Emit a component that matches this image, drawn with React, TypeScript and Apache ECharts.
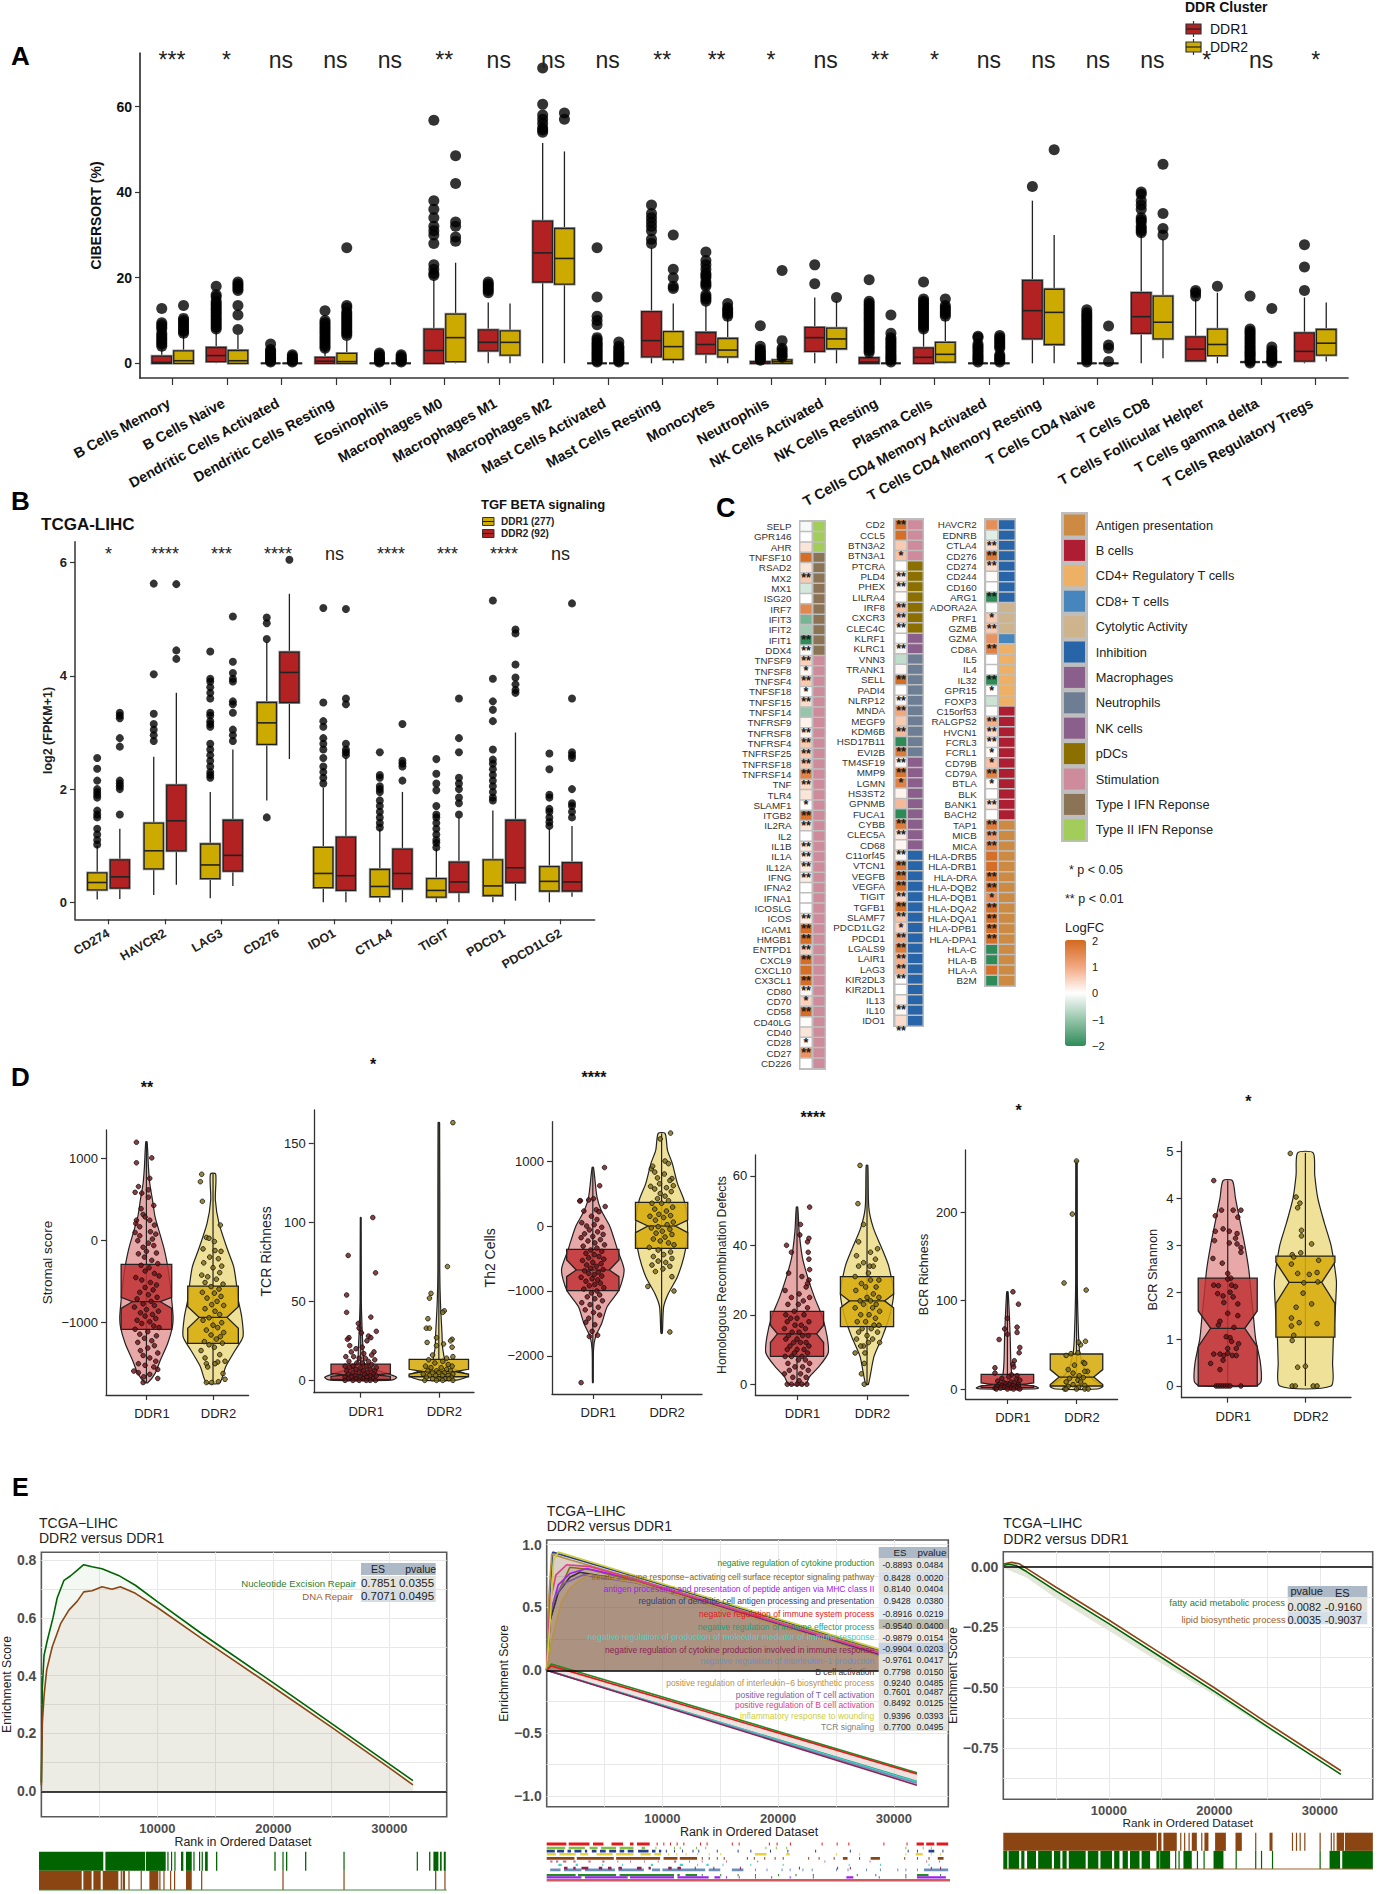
import React, { useEffect, useRef } from "react";
import * as echarts from "echarts";

const FONT = '"Liberation Sans", Arial, sans-serif';
const RED = "#B22222";
const GOLD = "#CDAA00";

// ---------- Panel A ----------
const cellTypes = ["B Cells Memory","B Cells Naive","Dendritic Cells Activated","Dendritic Cells Resting","Eosinophils","Macrophages M0","Macrophages M1","Macrophages M2","Mast Cells Activated","Mast Cells Resting","Monocytes","Neutrophils","NK Cells Activated","NK Cells Resting","Plasma Cells","T Cells CD4 Memory Activated","T Cells CD4 Memory Resting","T Cells CD4 Naive","T Cells CD8","T Cells Follicular Helper","T Cells gamma delta","T Cells Regulatory Tregs"];
const cellSig = ["***","*","ns","ns","ns","**","ns","ns","ns","**","**","*","ns","**","*","ns","ns","ns","ns","*","ns","*"];
// low whisker, q1, median, q3, high whisker
const cellBoxDDR1 = [[0,0,0.2,1.7,3.5],[0,0.4,1.8,3.7,7.4],[0,0,0,0,0],[0,0,0.5,1.4,3.2],[0,0,0,0,0],[0,0,3,8,19.6],[0,2.9,4.9,7.8,14.2],[0,19,25.8,33.2,51.5],[0,0,0,0,0],[0,1.5,5.3,12.1,27],[0,2.2,4.4,7.2,13.5],[0,0,0,0.4,0.6],[0,2.8,6,8.4,15.4],[0,0,0.3,1.3,2],[0,0,1.4,3.6,7.7],[0,0,0,0,0],[0,5.7,12.3,19.4,38],[0,0,0,0,0],[0,7,10.9,16.5,30],[0.3,0.6,3.3,6.2,15],[0.3,0.3,0.3,0.3,0.3],[0,0.5,2.8,7.1,15.4]];
const cellBoxDDR2 = [[0,0,0.6,2.9,6.8],[0,0,0.6,3,6.6],[0,0,0,0,0],[0,0,0.4,2.3,5.4],[0,0,0,0,0],[0,0.4,6,11.5,23.5],[0,1.9,4.9,7.6,14],[0,18.5,24.5,31.5,49.5],[0,0,0,0,0],[0,0.9,3.9,7.4,14],[0,1.5,3.1,5.8,10.5],[0,0,0.4,0.8,1],[0,3.4,5.7,8.2,14.5],[0,0,0,0,0],[0,0.3,2.1,4.9,10.6],[0,0,0,0,0],[0,4.4,11.9,17.3,30],[0,0,0,0,0],[1.2,5.7,9.6,15.7,29],[0,1.8,4.4,8,16.5],[0.3,0.3,0.3,0.3,0.3],[0.4,1.9,4.7,7.9,14.2]];
const cellOutDDR1 = [[4,4.5,5,5.5,6,6.5,7,8,8.5,9,9.5,12.8],[8,8.5,9,9.5,10,10.5,11,11.5,12,12.5,13,13.5,14,14.5,15.5,16,18],[0.3,0.6,0.9,1.2,1.6,2,2.4,2.8,3.2,4.5],[3.5,4,4.5,5,5.5,6,6.5,7,7.5,8,8.5,9,9.5,10,12.3],[0.3,0.6,0.9,1.2,1.5,2,2.4],[20.5,21,22,23,28,30,31,32,34,36,38,56.8],[16.5,17,17.5,18,18.5,19],[54,54.5,55,56,57,58,60.5,69],[0.3,0.6,1,1.4,1.8,2.2,2.6,3,3.4,3.8,4.2,4.6,5,5.5,6,9,10,11,15.5,27],[28,29,31,32,33,34,35,37],[14.5,15,15.5,16,18,18.5,19,20,20.5,21,22,23,24,26],[0.7,1,1.3,1.6,2,2.4,2.8,3.2,4,8.8],[18.6,23],[2.5,3,3.5,4,4.5,5,5.5,6,6.5,7,7.5,8,8.5,9,9.5,10,10.5,11,11.5,12,12.5,13,13.5,14,14.5,19.5],[8,8.5,9,9.5,10,10.5,11,11.5,12,12.5,13,13.5,14,14.5,15,19],[0.3,0.8,1.2,1.6,2,2.5,3,3.5,4,4.5,6,6.3],[41.3],[0.3,0.8,1.3,1.8,2.3,2.8,3.3,3.8,4.3,4.8,5.3,5.8,6.3,6.8,7.3,7.8,8.3,8.8,9.3,9.8,10.3,10.8,11.3,11.8,12.5],[30.5,31,31.5,32,33,33.5,34,36,37,38,39.5,40],[15.7,16.5,17],[0.1,0.5,0.9,1.4,1.8,2.2,2.6,3,3.5,4,4.5,5,5.5,6,6.5,7,7.5,8,15.7],[17,22.5,27.7]];
const cellOutDDR2 = [[7,7.5,8,8.5,9,9.5,10,10.5,13.5],[7.9,11.3,13.5,17,17.5,18,18.5,19],[0.3,0.6,0.9,1.2,1.6,2],[6.5,7,7.5,8,8.5,9,9.5,10,10.5,11,11.5,12,13,13.5,27],[0.3,0.6,0.9,1.2,1.6,2],[28.5,29.5,32,33,42,48.5],[],[57,58.5],[0.3,0.6,1,1.4,1.8,2.2,2.6,3,3.5,4,5],[17.5,18,20,22,30],[11,11.5,12,12.5,13,14],[1.4,1.8,2.4,3,3.5,5.3,21.7],[15.4],[0.3,0.8,1.2,1.6,2,2.5,3,3.5,4,4.5,5,5.5,6,7,11.3],[11,11.5,12,12.5,13,13.5,15],[0.3,0.8,1.2,1.6,2,3.5,4,4.5,5,5.5,6,6.5],[49.9],[0.4,3.5,4.3,8.7],[30,31.5,35,46.5],[18],[0.2,0.6,1,1.5,2,2.5,3,3.8,12.8],[]];

// ---------- Panel B ----------
const checkpoints = ["CD274","HAVCR2","LAG3","CD276","IDO1","CTLA4","TIGIT","PDCD1","PDCD1LG2"];
const checkpointSig = ["*","****","***","****","ns","****","***","****","ns"];
const cpBoxDDR1 = [[0.05,0.22,0.35,0.52,1],[0.13,0.59,0.91,1.4,2.57],[0.07,0.42,0.66,1.03,1.95],[1.8,2.79,3.17,3.53,4.6],[0,0.26,0.51,0.97,2.03],[0,0.1,0.28,0.58,1.3],[0,0.09,0.21,0.42,0.95],[0,0.12,0.29,0.75,1.62],[0,0.2,0.37,0.63,1.3]];
const cpBoxDDR2 = [[0.06,0.25,0.45,0.75,1.3],[0.31,0.91,1.44,2.07,3.7],[0.29,0.55,0.83,1.45,2.7],[2.53,3.53,4.06,4.42,5.45],[0,0.21,0.47,1.15,2.55],[0,0.24,0.51,0.94,1.95],[0,0.18,0.36,0.71,1.5],[0.03,0.35,0.61,1.45,3],[0.1,0.2,0.36,0.7,1.35]];
const cpOutDDR1 = [[1.02,1.1,1.2,1.3,1.5,1.55,1.62,1.85,1.9,1.95,2,2.15,2.36,2.55],[2.85,2.95,3.05,3.15,3.33,4.03,5.63],[2.2,2.25,2.3,2.4,2.5,2.6,2.7,2.8,3.1,3.15,3.2,3.3,3.35,3.6,3.7,3.8,3.9,3.95,4.43],[1.5,4.65,4.93,5.03],[2.1,2.2,2.3,2.4,2.55,2.7,2.8,2.9,3.1,3.2,3.53,5.2],[1.32,1.4,1.5,1.6,1.7,1.8,1.95,2,2.05,2.2,2.25,2.65],[0.97,1.05,1.1,1.2,1.3,1.4,1.5,1.55,1.7,1.98,2.1,2.27,2.53],[1.8,1.85,1.95,2.05,2.15,2.25,2.35,2.45,2.52,2.7,3.2,3.4,3.55,3.95,5.33],[1.35,1.42,1.5,1.6,1.65,1.85,1.9,2.35,2.63]];
const cpOutDDR2 = [[1.55,2,2.05,2.1,2.15,2.75,2.9,3.25,3.3,3.35],[4.3,4.45,5.62],[2.85,2.95,3.05,3.35,3.5,3.55,3.9,3.95,4.05,4.25,5.05],[6.05],[2.6,2.65,2.7,2.8,3.5,3.6,5.18],[2.15,2.4,2.45,2.5,3.15],[1.55,1.75,1.85,2,2.1,2.2,2.65,2.9,3.6],[3.7,3.75,3.85,3.97,4.2,4.75,4.82],[1.5,1.6,1.7,1.75,2,2.55,2.6,2.65,3.6,5.28]];

// ---------- Panel C ----------
const immuneGroups = ["Antigen presentation","B cells","CD4+ Regulatory T cells","CD8+ T cells","Cytolytic Activity","Inhibition","Macrophages","Neutrophils","NK cells","pDCs","Stimulation","Type I IFN Reponse","Type II IFN Reponse"];
const immuneColors = ["#CD8A42","#AE1E32","#EDB064","#4686BC","#CEB48C","#2865A8","#8B5F8C","#6D7E94","#8B5F8C","#8B7000","#CD8B9C","#8B7355","#A2CD5A"];
const genes1 = ["SELP","GPR146","AHR","TNFSF10","RSAD2","MX2","MX1","ISG20","IRF7","IFIT3","IFIT2","IFIT1","DDX4","TNFSF9","TNFSF8","TNFSF4","TNFSF18","TNFSF15","TNFSF14","TNFRSF9","TNFRSF8","TNFRSF4","TNFRSF25","TNFRSF18","TNFRSF14","TNF","TLR4","SLAMF1","ITGB2","IL2RA","IL2","IL1B","IL1A","IL12A","IFNG","IFNA2","IFNA1","ICOSLG","ICOS","ICAM1","HMGB1","ENTPD1","CXCL9","CXCL10","CX3CL1","CD80","CD70","CD58","CD40LG","CD40","CD28","CD27","CD226"];
const logfc1 = [-0.1,-0.03,0.3,1.9,0.3,0.6,-0.4,0,1.5,-1.3,-0.9,-2,0,0.5,0.1,0.6,0,0.4,-1,0.15,0.15,0.6,0.6,0.6,1.6,0.4,0.3,0,1.8,0.3,0,0.2,0.15,0.2,0.2,0,0,0,0.2,1.9,1.9,0.5,1.9,1.9,1.9,0.1,0.5,1.9,0.05,0.3,0.05,1.3,0];
const stars1 = ["","","","","","**","","","","","","**","**","**","*","**","*","**","","","**","**","**","**","**","**","","*","**","**","","**","**","**","**","","","","**","**","**","**","**","","**","**","*","**","","","*","**",""];
const groupRows1 = [[12,3],[11,10],[10,40]];
const genes2 = ["CD2","CCL5","BTN3A2","BTN3A1","PTCRA","PLD4","PHEX","LILRA4","IRF8","CXCR3","CLEC4C","KLRF1","KLRC1","VNN3","TRANK1","SELL","PADI4","NLRP12","MNDA","MEGF9","KDM6B","HSD17B11","EVI2B","TM4SF19","MMP9","LGMN","HS3ST2","GPNMB","FUCA1","CYBB","CLEC5A","CD68","C11orf45","VTCN1","VEGFB","VEGFA","TIGIT","TGFB1","SLAMF7","PDCD1LG2","PDCD1","LGALS9","LAIR1","LAG3","KIR2DL3","KIR2DL1","IL13","IL10","IDO1"];
const logfc2 = [1.9,1.9,0.6,0.7,0,0.25,0.15,0.05,0.7,0.5,0.05,0,0.1,-0.6,0.1,1.9,0,0.1,1,0.6,0.8,-2,1.7,0.1,1.8,1.6,0.15,0.8,-2,1.7,0.25,0.1,0.1,1.7,1.8,1.9,0.5,1.9,0.7,0.5,1,1.7,0.9,0.9,0.05,0,0.2,0.1,0.4];
const stars2 = ["**","","","*","","**","**","","**","**","**","","**","","","**","","**","**","","**","","**","**","**","*","","","","**","**","","**","**","**","**","**","**","**","*","**","**","**","**","**","","","**","**"];
const groupRows2 = [[10,4],[9,7],[8,2],[7,10],[6,9],[5,17]];
const genes3 = ["HAVCR2","EDNRB","CTLA4","CD276","CD274","CD244","CD160","ARG1","ADORA2A","PRF1","GZMB","GZMA","CD8A","IL5","IL4","IL32","GPR15","FOXP3","C15orf53","RALGPS2","HVCN1","FCRL3","FCRL1","CD79B","CD79A","BTLA","BLK","BANK1","BACH2","TAP1","MICB","MICA","HLA-DRB5","HLA-DRB1","HLA-DRA","HLA-DQB2","HLA-DQB1","HLA-DQA2","HLA-DQA1","HLA-DPB1","HLA-DPA1","HLA-C","HLA-B","HLA-A","B2M"];
const logfc3 = [1.4,-0.3,0.4,1.7,0.4,0.05,0,-2,0,0.6,0.6,1.3,1.6,0,0,-2,0,-0.5,0,0.9,0.4,0.15,0.05,0.7,1.6,0.05,0,0.3,0,1.7,1.2,1.6,1.9,1.9,1.9,1.9,1.4,1.9,1.9,1.9,1.9,-2,-2,1.9,-2];
const stars3 = ["","","**","**","**","","","**","","*","**","","**","","","**","*","","","**","**","**","*","*","**","*","","**","","**","**","**","","","**","**","*","**","**","**","**","","","",""];
const groupRows3 = [[5,8],[4,3],[3,1],[2,6],[1,11],[0,16]];
const logfcTicks = ["2","1","0","\u22121","\u22122"];

// ---------- Panel D ----------
const stromalViolin1 = [[1207,.01],[900,.03],[700,.05],[500,.09],[290,.13],[90,.2],[-114,.27],[-317,.32],[-520,.355],[-724,.38],[-927,.4],[-1050,.39],[-1250,.32],[-1455,.21],[-1618,.13],[-1732,.02]];
const stromalViolin2 = [[813,.04],[496,.035],[211,.09],[-114,.22],[-317,.31],[-520,.35],[-724,.38],[-927,.43],[-1170,.45],[-1333,.335],[-1537,.19],[-1732,.1]];
const stromalBox1 = [-1732,-1081,-825,-744,-691,-289,1207,.21];
const stromalBox2 = [-1732,-1252,-1069,-935,-805,-553,813,.21];
const stromalPts1 = [[-.15,1200],[.08,1010],[-.15,950],[.05,760],[-.12,660],[-.17,590],[-.07,580],[.03,620],[.03,530],[.11,430],[-.08,390],[-.05,320],[-.02,290],[-.15,250],[.05,250],[-.16,210],[-.1,170],[.12,190],[-.17,100],[.06,110],[.14,80],[-.1,60],[.09,20],[-.13,0],[.03,-30],[-.05,-80],[.11,-60],[0,-130],[.15,-150],[-.12,-160],[-.03,-200],[.08,-240],[.17,-280],[-.08,-300],[.04,-330],[-.02,-370],[.12,-400],[.19,-430],[-.16,-450],[-.07,-480],[.06,-510],[.15,-540],[-.02,-570],[.1,-600],[-.1,-630],[.03,-660],[.16,-690],[-.14,-710],[.07,-740],[-.05,-770],[.12,-790],[-.18,-810],[0,-840],[.18,-860],[-.09,-880],[.09,-900],[-.02,-920],[.14,-950],[-.14,-970],[.05,-990],[-.07,-1010],[.11,-1040],[.19,-1060],[-.17,-1080],[.02,-1110],[-.1,-1140],[.15,-1160],[-.03,-1190],[.08,-1220],[-.13,-1240],[.12,-1280],[.02,-1310],[-.09,-1340],[.17,-1370],[-.05,-1400],[.05,-1430],[.14,-1470],[-.12,-1500],[-.02,-1520],[.11,-1540],[.17,-1570],[-.19,-1590],[-.12,-1610],[.05,-1630],[-.04,-1660],[.17,-1680],[-.05,-1730]];
const stromalPts2 = [[-.17,810],[-.19,720],[-.16,480],[.11,190],[-.1,40],[-.06,30],[.02,-10],[-.15,-100],[.03,-120],[.12,-130],[-.05,-200],[.08,-220],[-.14,-270],[.13,-310],[0,-330],[.1,-390],[-.17,-420],[-.08,-440],[.05,-470],[-.12,-510],[.15,-530],[-.03,-560],[.09,-590],[-.16,-630],[.02,-640],[.12,-680],[-.09,-700],[.06,-740],[-.02,-780],[.16,-790],[-.12,-830],[.03,-860],[.1,-900],[-.06,-940],[-.15,-970],[.13,-1000],[0,-1030],[.07,-1060],[-.1,-1090],[.16,-1120],[-.03,-1150],[.11,-1170],[.05,-1200],[-.13,-1230],[.14,-1250],[-.06,-1270],[.02,-1300],[-.18,-1340],[.1,-1390],[-.12,-1430],[.18,-1470],[.07,-1480],[-.1,-1500],[-.08,-1540],[.03,-1500],[-.1,-1730],[-.02,-1730],[.15,-1620],[.18,-1690],[.08,-1720]];
const tcrViolin1 = [[103,.005],[50,.008],[30,.02],[20,.03],[12,.04],[8,.1],[5,.3],[2,.46],[.5,.42],[0,.35]];
const tcrViolin2 = [[163,.01],[70,.012],[50,.02],[30,.04],[20,.05],[10,.1],[5,.3],[3,.38],[1,.3],[0,.2]];
const tcrBox1 = [0,.6,2.6,3.4,4.4,10.3,103,.2];
const tcrBox2 = [0,2.3,4,5.5,7,13.3,163,.2];
const tcrPts1 = [[.155,103],[-.16,79],[.19,68],[-.18,54],[-.18,43],[.13,40],[-.03,36],[.2,31],[-.02,33],[.01,30],[-.15,27],[-.17,26],[.1,28],[.13,27],[.08,25],[-.14,22],[.02,21],[-.06,20],[.17,18],[-.12,18],[.04,17],[.14,16],[-.19,15],[-.09,15],[.06,14],[-.02,14],[.18,13],[-.15,12],[.1,12],[-.05,11],[.02,11],[.14,10],[-.2,9],[-.1,9],[.07,9],[.2,8],[-.14,8],[0,8],[-.06,7],[.12,7],[.18,6],[-.18,6],[.04,6],[-.1,5],[.09,5],[-.02,5],[.16,4],[-.16,4],[.05,4],[-.07,3],[.12,3],[.2,3],[-.2,2],[-.12,2],[0,2],[.08,2],[.16,1],[-.06,1],[-.16,1],[.03,1],[.12,0],[-.1,0],[-.02,0],[.19,0],[-.2,0],[.07,0]];
const tcrPts2 = [[.18,163],[.11,72],[-.1,55],[-.12,52],[.07,44],[.05,43],[-.14,39],[-.16,33],[-.12,33],[-.03,27],[.17,26],[.15,25],[-.15,24],[.06,23],[-.03,22],[.17,21],[-.08,16],[.18,15],[.1,14],[-.13,13],[.05,12],[-.05,11],[.12,10],[.17,9],[-.17,9],[-.1,8],[.03,8],[.1,7],[-.03,6],[.15,6],[-.14,6],[.07,5],[-.08,5],[0,5],[.18,4],[-.2,4],[.12,3],[-.12,3],[.05,3],[-.04,3],[.16,2],[-.16,2],[.08,1],[-.08,1],[0,1],[.13,1],[-.18,0],[.05,0],[-.03,0],[.18,0]];
const th2Violin1 = [[902,.01],[451,.06],[246,.12],[-10,.25],[-370,.36],[-677,.455],[-985,.38],[-1240,.21],[-1497,.13],[-1703,.04],[-1908,.01],[-2410,.005]];
const th2Violin2 = [[1425,.05],[1169,.085],[964,.155],[656,.23],[400,.325],[143,.37],[-164,.375],[-472,.325],[-780,.23],[-1036,.1],[-1241,.03],[-1651,.01]];
const th2Box1 = [-2410,-995,-780,-677,-523,-359,902,.24];
const th2Box2 = [-1651,-344,-102,0,92,364,1425,.2];
const th2Pts1 = [[.17,900],[.1,620],[-.18,390],[-.19,385],[.01,420],[-.06,400],[.18,300],[.05,250],[-.13,230],[.09,220],[-.02,150],[.06,100],[-.16,50],[.02,20],[-.09,0],[.13,-20],[-.05,-60],[.07,-90],[-.12,-120],[.15,-130],[0,-160],[-.17,-180],[.11,-210],[-.07,-230],[.03,-260],[.17,-290],[-.14,-310],[.06,-340],[-.03,-370],[.13,-390],[-.1,-420],[.02,-440],[.09,-470],[-.06,-490],[.16,-510],[-.15,-530],[0,-560],[.12,-580],[-.09,-600],[.05,-620],[-.03,-650],[.15,-670],[-.12,-690],[.08,-710],[-.06,-730],[.02,-750],[.13,-770],[-.17,-790],[-.01,-810],[.07,-830],[-.1,-850],[.11,-880],[.03,-900],[-.05,-920],[.16,-950],[-.13,-970],[.06,-1000],[-.02,-1030],[.1,-1060],[-.08,-1090],[.03,-1120],[.14,-1150],[-.16,-1180],[-.04,-1210],[.08,-1250],[-.11,-1290],[.01,-1330],[.1,-1370],[-.06,-1420],[-.1,-1480],[.03,-1520],[-.01,-1620],[.07,-1680],[-.05,-1700],[-.17,-2410]];
const th2Pts2 = [[.13,1430],[-.02,1340],[-.15,880],[-.13,920],[.05,1000],[.1,960],[-.1,830],[.04,800],[.15,730],[-.06,740],[.12,700],[-.03,650],[.17,620],[.07,590],[-.16,610],[-.1,570],[.14,530],[-.02,500],[.05,460],[-.06,420],[.1,390],[-.14,350],[0,350],[.16,290],[-.1,260],[.07,230],[-.04,180],[.13,160],[-.17,150],[.03,130],[-.09,90],[.17,60],[.08,20],[-.05,-10],[-.15,-30],[.12,-50],[.01,-80],[-.08,-110],[.15,-130],[.05,-170],[-.12,-200],[-.02,-230],[.1,-260],[.18,-290],[-.18,-330],[-.05,-370],[.13,-400],[.03,-440],[-.12,-470],[.15,-500],[-.05,-540],[.06,-560],[-.14,-600],[.12,-620],[.02,-660],[-.09,-700],[.15,-780],[-.2,-930],[.18,-1000],[.12,-1630]];
const hrdViolin1 = [[51,.01],[44,.03],[36.7,.075],[31,.15],[25,.25],[19.5,.36],[13.7,.43],[9,.445],[5,.31],[2.2,.18],[0,.12]];
const hrdViolin2 = [[63,.012],[51,.025],[45,.09],[38.7,.22],[34,.31],[26,.38],[19.5,.32],[13.7,.22],[8,.1],[0,.02]];
const hrdBox1 = [0,8,12,14.5,17,21,51,.28];
const hrdBox2 = [0,16.6,22,24,26,31,63,.25];
const hrdPts1 = [[.18,51],[.05,46],[.04,43],[.17,42],[.15,41],[-.15,40],[.16,38],[-.08,38],[.17,36],[.18,33],[.07,31],[.17,30],[.15,29],[-.12,32],[.13,28],[-.17,27],[.03,26],[.18,25],[-.08,25],[.09,24],[-.13,23],[.02,23],[.15,22],[-.04,21],[-.16,20],[.1,20],[0,19],[-.09,19],[.17,18],[-.14,18],[.06,17],[-.03,17],[.12,16],[-.18,16],[.03,15],[-.07,15],[.16,14],[-.12,14],[.08,14],[0,13],[-.16,13],[.13,12],[-.05,12],[.05,12],[-.1,11],[.17,11],[0,10],[.1,10],[-.14,10],[-.04,9],[.15,9],[.07,8],[-.17,8],[-.08,8],[.02,7],[.12,7],[-.13,6],[.18,6],[-.03,5],[.08,5],[.16,4],[-.11,4],[.05,3],[-.18,3],[.13,2],[-.06,2],[.03,1],[-.14,0],[-.08,0],[0,0],[.07,0],[.14,0]];
const hrdPts2 = [[-.1,63],[-.13,52],[-.05,46],[-.12,41],[.15,39],[.05,38],[-.15,37],[.12,36],[-.05,35],[.04,34],[.09,34],[-.12,34],[.02,32],[-.17,31],[.17,30],[.05,30],[-.08,29],[.13,28],[-.02,28],[-.16,27],[.09,26],[0,25],[.17,25],[-.1,24],[.05,24],[.13,23],[-.05,23],[.08,22],[-.17,22],[.18,21],[-.09,20],[.03,20],[.12,19],[-.02,18],[-.14,18],[.1,17],[.17,17],[-.07,16],[.06,16],[.15,15],[-.12,15],[0,14],[-.15,13],[.08,13],[.02,12],[.18,12],[-.05,11],[-.09,11],[-.03,9],[-.17,9],[-.04,6],[-.08,3],[-.04,0]];
const bcrViolin1 = [[110,.01],[60,.04],[30,.05],[15,.07],[7,.15],[3,.4],[1,.45],[0,.35]];
const bcrViolin2 = [[258,.01],[120,.012],[60,.03],[40,.05],[20,.13],[10,.25],[3,.38],[0,.3]];
const bcrBox1 = [0,1.5,3.5,5,7,16.6,110,.2];
const bcrBox2 = [0,3.4,5,13.5,22,39.6,258,.25];
const bcrPts1 = [[.08,110],[.16,96],[0,80],[.14,70],[-.04,68],[.14,64],[0,62],[-.12,56],[.18,47],[.17,41],[.1,32],[.08,28],[.09,25],[-.18,24],[-.18,18],[.06,16],[.14,15],[.02,14],[-.08,12],[.13,11],[.18,10],[-.14,9],[.05,8],[-.05,7],[.1,7],[-.02,6],[.16,5],[-.12,5],[.03,5],[-.08,4],[.09,4],[.16,3],[-.15,3],[0,3],[.12,2],[-.05,2],[-.18,1],[.05,1],[.15,1],[-.1,1],[0,0],[.18,0],[-.16,0],[.09,0]];
const bcrPts2 = [[0,258],[-.06,198],[-.18,120],[.14,112],[.13,54],[.06,50],[.03,53],[-.15,38],[-.08,40],[.02,41],[.1,30],[.12,29],[-.03,27],[-.12,22],[.16,20],[.12,20],[-.05,18],[.04,15],[.1,13],[-.1,12],[.02,10],[-.15,8],[.06,8],[-.05,5],[.12,4],[-.12,3],[.03,2],[-.17,0],[-.15,0],[0,0],[.12,0],[.17,0]];
const shanViolin1 = [[4.38,.06],[4,.1],[3.5,.16],[3,.22],[2.5,.27],[2,.3],[1.5,.33],[1,.36],[.5,.42],[.1,.43],[0,.36]];
const shanViolin2 = [[4.97,.1],[4.5,.12],[4,.16],[3.5,.24],[3,.33],[2.5,.38],[2.2,.4],[1.5,.38],[1,.36],[.5,.35],[0,.33]];
const shanBox1 = [0,0,.84,1.23,1.6,2.3,4.38,.22];
const shanBox2 = [0,1.04,1.76,2.21,2.64,2.77,4.97,.21];
const shanPts1 = [[-.18,4.38],[-.16,3.63],[-.08,3.75],[.07,3.75],[.17,3.75],[.13,3.6],[-.16,3.3],[-.06,3.35],[.02,3.3],[.12,3.25],[.1,3.15],[-.17,3.1],[.02,3.05],[.12,3.03],[.17,2.95],[.17,2.85],[-.19,2.72],[-.07,2.62],[0,2.4],[.04,2.3],[0,2.28],[-.18,2.15],[-.12,2.14],[.05,2.15],[.1,2.12],[-.13,1.97],[-.06,1.92],[.03,2],[.07,1.9],[-.05,1.78],[.13,1.75],[0,1.55],[.13,1.5],[-.1,1.38],[-.12,1.3],[.08,1.25],[-.02,1.05],[.03,1.03],[.05,.95],[.14,.9],[0,.8],[.11,.8],[-.18,.68],[-.1,.68],[-.05,.65],[0,.7],[.06,.65],[.11,.65],[-.06,.55],[-.22,.48],[-.1,.35],[-.15,0],[-.12,0],[-.09,0],[-.06,0],[-.03,0],[0,0],[.03,0],[.17,0]];
const shanPts2 = [[-.195,4.96],[-.12,4.03],[-.07,3.9],[-.1,3.8],[-.05,3.32],[-.05,3.2],[.08,3.03],[-.06,2.84],[-.17,2.8],[-.15,2.75],[.17,2.68],[-.18,2.6],[.05,2.38],[-.1,2.4],[.15,2.42],[-.02,2.2],[.16,2.22],[-.03,1.98],[-.12,1.68],[.08,1.75],[-.18,1.45],[-.08,1.35],[-.18,1.28],[.15,1.33],[-.15,1.08],[-.17,.97],[-.1,.4],[0,.42],[-.17,0],[-.13,0],[.1,0],[.15,0]];

// ---------- Panel E ----------
const nerCurve = [[0,.03],[85,.36],[230,.47],[500,.52],[1000,.6],[1370,.67],[1950,.73],[2500,.745],[3100,.765],[3650,.784],[4370,.777],[5230,.77],[6650,.747],[8100,.713],[10000,.656],[13800,.546],[20000,.375],[25000,.235],[30000,.094],[32030,.037]];
const dnaCurve = [[0,.02],[85,.235],[230,.33],[460,.42],[940,.5],[1660,.58],[2370,.627],[3100,.658],[3650,.69],[4370,.694],[5230,.708],[6090,.699],[6800,.708],[8100,.685],[10000,.636],[13800,.529],[20000,.36],[25000,.222],[30000,.081],[32030,.022]];
const nerRug = [[0,5510],[5690,9090],[9170,10860],[11000,11100],[11310,11400],[11600,11690],[12170,12370],[12600,13090],[13230,13320],[13710,13800],[13940,14030],[14230,14460],[15170,15280],[20170,20280],[20860,20950],[21170,21280],[22800,22910],[26090,26180],[32370,32460],[33430,33540],[33800,34230],[34370,34510],[34690,34860]];
const dnaRug = [[0,3660],[3800,4510],[4660,5290],[5460,6800],[7000,7090],[7170,7370],[7660,7750],[8710,8800],[9460,10230],[10310,10400],[10660,10750],[11230,11320],[11570,11660],[12600,13090],[13890,13980],[20860,20950],[26090,26180],[33940,34050],[34740,34830]];
const gseaTerms = ["negative regulation of cytokine production","innate immune response\u2212activating cell surface receptor signaling pathway","antigen processing and presentation of peptide antigen via MHC class II","regulation of dendritic cell antigen processing and presentation","negative regulation of immune system process","negative regulation of immune effector process","negative regulation of production of molecular mediator of immune response","negative regulation of cytokine production involved in immune response","negative regulation of interleukin\u22121 production","B cell activation","positive regulation of interleukin\u22126 biosynthetic process","positive regulation of T cell activation","positive regulation of B cell activation","inflammatory response to wounding","TCR signaling"];
const gseaEs = ["-0.8893","0.8428","0.8140","0.9428","-0.8916","-0.9540","-0.9879","-0.9904","-0.9761","0.7798","0.9240","0.7601","0.8492","0.9396","0.7700"];
const gseaP = ["0.0484","0.0020","0.0404","0.0380","0.0219","0.0400","0.0154","0.0203","0.0417","0.0150","0.0485","0.0487","0.0125","0.0393","0.0495"];
const gseaColors = ["#228B22","#8B6914","#A020F0","#27408B","#E31A1C","#1B9E77","#48D1CC","#8B2252","#6C8EBF","#3B2F2F","#B8904A","#7D5BA6","#E0408A","#CDCD3C","#808080"];
const posCurveDendritic = [[0,0],[150,.45],[520,.94],[7780,.742],[28670,.16],[32000,.065]];
const posCurveInnate = [[0,0],[300,.4],[900,.6],[2000,.82],[3800,.8],[7780,.71],[28670,.13],[32000,.05]];
const posCurveAntigen = [[0,0],[300,.45],[1000,.68],[2000,.77],[3460,.81],[7780,.72],[28670,.13],[32000,.045]];
const posCurveBact = [[0,0],[300,.4],[1000,.62],[2000,.74],[2880,.78],[7780,.7],[28670,.125],[32000,.04]];
const posCurveIL6 = [[0,0],[200,.6],[430,.925],[2000,.88],[7780,.725],[28670,.15],[32000,.06]];
const posCurveTact = [[0,0],[300,.45],[800,.6],[1500,.69],[3170,.76],[7780,.695],[28670,.12],[32000,.035]];
const posCurveBpos = [[0,0],[300,.55],[800,.76],[1730,.84],[3750,.825],[7780,.72],[28670,.14],[32000,.05]];
const posCurveInflam = [[0,0],[300,.4],[600,.88],[1000,.94],[7780,.75],[28670,.17],[32000,.08]];
const posCurveTCR = [[0,0],[200,.1],[600,.3],[1300,.55],[2000,.65],[2900,.72],[3750,.76],[7780,.7],[28670,.11],[32000,.03]];
const negCurveCyto = [[0,0],[400,.05],[32000,-.815]];
const negCurveImmune = [[0,0],[400,.035],[32000,-.825]];
const negCurveEffector = [[0,0],[32000,-.885]];
const negCurveMediator = [[0,0],[32000,-.89]];
const negCurveIL1 = [[0,0],[32000,-.9]];
const negCurveProd = [[0,0],[32000,-.915]];
const rugRowsE2 = [
  { color: "#E31A1C", y: 7.1, h: .6, segs: [[0,1700],[1900,3700],[4000,4900],[5600,6600],[7200,7500],[7800,8900],[9500],[10080],[10660],[11230],[11810],[13250],[13820],[16000],[16590],[19200],[19870],[21020],[23760],[25060],[26070],[29100],[31100],[31970,32600],[32800,33500],[33700,34700]] },
  { color: "#7FBF3F", y: 6.35, h: .5, segs: [[0,1600],[1900,3300],[3700,4400],[4700,6000],[6300,7500],[8200,8500],[9400],[11000],[11500],[12900],[13700],[18900],[19800],[20700],[31000],[32500],[33200]] },
  { color: "#27408B", y: 5.7, h: .55, segs: [[0,700],[900,1500],[1800,2100],[2400,3000],[3300,3500],[3900,4300],[4600,5100],[5400,6000],[6300,6700],[7000,7500],[7900,8800],[9100,9400],[9700,9900],[10300],[11000],[11700],[12600],[13100],[14700],[16500],[17600],[19300],[20800],[23200],[26200],[31200],[32000],[33000,33500],[34200]] },
  { color: "#E6D33C", y: 5.1, h: .5, segs: [[0,800],[1100,2500],[2900,3600],[4300,5700],[6000,7500],[8100,9000],[9300,9900],[10500],[11200],[12000],[13000],[14000],[15000],[18000,19000],[20700,21000],[25000],[27000],[31000],[31900,32500],[33200],[34000]] },
  { color: "#8B4513", y: 4.25, h: .55, segs: [[0,2400],[2600,5800],[6000,9800],[10100,11300],[11500,13000],[13400],[14000],[14700],[15300],[17300],[17900],[18800],[19700],[20400],[22600],[23500],[24800],[25600,26000],[27000],[28000,28800],[30900],[32000],[33000],[33800,34300]] },
  { color: "#C96A8A", y: 3.7, h: .4, segs: [[300,500],[800,1000],[1400,1700],[2300,2500],[3600,3800],[4800,5000],[6100],[7200],[8400],[9600],[11000,11200],[12300],[13400],[15500],[18200],[24000],[27900],[32800],[33900]] },
  { color: "#48D1CC", y: 3, h: .45, segs: [[1000,1300],[2500,2700],[4800],[6500],[9000,9200],[11500,11800],[13000],[13800,14000],[15200],[17600],[20400],[26100],[28800],[33000]] },
  { color: "#6C8EBF", y: 1.95, h: .55, segs: [[300,1200],[1500,3000],[3300,5900],[6200,8400],[9100,9800],[10000,13700],[14000,15000],[16000,17000],[18000],[19000],[20300],[21000],[22100],[22900],[25000],[26000],[27600],[28800],[30300],[31000],[32000],[32600,34700]] },
  { color: "#8B2252", y: 2.3, h: .55, segs: [[1500,1800],[2300,2500],[3000,3600],[4500,4800],[5300,5600],[6200,6500],[7800,8200],[8800,9000],[10500,10800],[11300,11600],[12800],[14400],[16700],[21800],[25100],[26200],[33200],[34000]] },
  { color: "#228B22", y: .95, h: .45, segs: [[0,2500],[2700,6000],[6300,11000],[11300,11500],[12000,13000],[13400],[15000],[16500],[18000],[20000],[21500],[23000],[26800],[28400],[31000],[32000,33000],[34000]] },
  { color: "#A020F0", y: .5, h: .45, segs: [[0,3000],[3300,7000],[7200,11000],[11300,14000],[14500,15000],[15500],[16600],[18000],[19400],[21000],[23000],[25900,26500],[28700],[31000],[32000,34500]] },
];
const lipidCurve = [[0,.011],[800,.018],[1500,.012],[2200,-.007],[5000,-.085],[10000,-.22],[15000,-.36],[20000,-.5],[25000,-.645],[32000,-.843]];
const fattyCurve = [[0,.005],[500,.01],[1200,.005],[2200,-.02],[5000,-.1],[10000,-.235],[15000,-.375],[20000,-.515],[25000,-.66],[32000,-.858]];
const fattyRibbon = [[0,-.005],[2200,-.045],[5000,-.13],[10000,-.265],[15000,-.4],[20000,-.53],[25000,-.668],[32000,-.858]];
const lipidRug = [[0,14530],[14650,14980],[15160,16430],[16750],[17120],[17540],[17850,18330],[18740],[19050,19430],[20060,21080],[21990,22590],[23850],[25210,25500],[27330],[27710],[28060],[28500],[29950],[31010],[31260],[31570,32270],[32350,35000]];
const fattyRug = [[0,380],[500,1500],[1700,2000],[2250,3100],[3300,4600],[4800,5400],[5600,6000],[6200,7800],[8000,9000],[9200,10300],[10500,11000],[11300,11800],[12000,12900],[13100,13900],[14500,14800],[14850,15800],[16270],[16590],[17060,17850],[18330],[18960],[19910,20850],[22000],[23850],[24400],[25440],[29950],[30900,31900],[32100,35000]];

function App() {
  const ref = useRef<HTMLDivElement>(null);
  useEffect(() => {
    const chart = echarts.init(ref.current!, null, { renderer: "svg" });
    const grids: any[] = [], xAxes: any[] = [], yAxes: any[] = [], series: any[] = [], gfx: any[] = [];

    const txt = (x: number, y: number, text: string, o: any = {}) => gfx.push({
      type: "text", x, y, z: o.z ?? 60, rotation: o.rot || 0, silent: true,
      style: { text, fontFamily: FONT, fontSize: o.fs || 12, fontWeight: o.bold ? "bold" : "normal", fill: o.color || "#111", align: o.align || "left", verticalAlign: "middle" },
    });
    const rect = (x: number, y: number, w: number, h: number, fill: string, o: any = {}) => gfx.push({
      type: "rect", z: o.z ?? 50, silent: true, shape: { x, y, width: w, height: h }, style: { fill, stroke: o.stroke, lineWidth: o.lw },
    });
    const hline = (x1: number, y1: number, x2: number, y2: number, stroke: string, lw = 1, z = 49) => gfx.push({
      type: "line", z, silent: true, shape: { x1, y1, x2, y2 }, style: { stroke, lineWidth: lw },
    });
    const fmt = (v: number) => String(v).replace("-", "\u2212");

    const addGrid = (o: any) => {
      const g = grids.length;
      grids.push({ left: o.l, top: o.t, width: o.r - o.l, height: o.b - o.t, show: !!o.frame, borderColor: "#595959", borderWidth: o.frame ? 1.6 : 0, backgroundColor: "transparent" });
      const line = { show: !o.frame, onZero: false, lineStyle: { color: "#333", width: o.lw || 1.4 } };
      const tickS = { color: "#333", width: 1.2 };
      const split = { show: !!o.frame, lineStyle: { color: "#E8E8E8", width: 1 } };
      xAxes.push({
        type: "value", gridIndex: g, min: o.x[0], max: o.x[1], position: "bottom", axisLine: line,
        axisTick: { show: !o.frame, length: o.xTickLen || 5, lineStyle: tickS, customValues: o.xGrid || o.xTicks },
        axisLabel: { customValues: o.xTicks, formatter: o.xFmt || ((v: number) => String(v)), margin: o.xMargin ?? 8, rotate: o.xRot || 0, fontFamily: FONT, fontSize: o.xFs || 13, fontWeight: o.xBold ? "bold" : "normal", color: o.xColor || "#222", padding: o.xPad || 0 },
        splitLine: split,
      });
      yAxes.push({
        type: "value", gridIndex: g, min: o.y[0], max: o.y[1], position: "left", axisLine: line,
        axisTick: { show: !o.frame, length: 5, lineStyle: tickS, customValues: o.yGrid || o.yTicks },
        axisLabel: { customValues: o.yTicks, formatter: o.yFmt || fmt, margin: o.yMargin ?? 8, fontFamily: FONT, fontSize: o.yFs || 13, fontWeight: o.yBold ? "bold" : "normal", color: o.yColor || "#222" },
        splitLine: split,
        name: o.name, nameLocation: "middle", nameRotate: 90, nameGap: o.nameGap,
        nameTextStyle: { fontFamily: FONT, fontSize: o.nameFs || 13, fontWeight: o.nameBold ? "bold" : "normal", color: o.nameColor || "#222" },
      });
      return g;
    };
    const hiddenGrid = (l: number, t: number, r: number, b: number, x: number[], y: number[]) => {
      const g = grids.length;
      grids.push({ left: l, top: t, width: r - l, height: b - t, show: false });
      xAxes.push({ type: "value", gridIndex: g, min: x[0], max: x[1], show: false, splitLine: { show: false } });
      yAxes.push({ type: "value", gridIndex: g, min: y[0], max: y[1], show: false, splitLine: { show: false } });
      return g;
    };

    const dodgedBoxes = (g: number, boxes: number[][], offset: number, half: number, fill: string) => series.push({
      type: "custom", xAxisIndex: g, yAxisIndex: g, z: 3,
      data: boxes.map((b, i) => [i + 1 + offset, ...b]), encode: { x: 0, y: [1, 2, 3, 4, 5] },
      renderItem: (_: any, api: any) => {
        const x = api.value(0);
        const [lo, q1, med, q3, hi] = [1, 2, 3, 4, 5].map((k) => api.value(k));
        const P = (dx: number, v: number) => api.coord([x + dx, v]);
        const stroke = "#222";
        const seg = (a: number[], b: number[], lw = 1.3) => ({ type: "line", shape: { x1: a[0], y1: a[1], x2: b[0], y2: b[1] }, style: { stroke, lineWidth: lw } });
        return {
          type: "group",
          children: [
            seg(P(0, lo), P(0, q1)), seg(P(0, q3), P(0, hi)),
            { type: "polygon", shape: { points: [P(-half, q1), P(half, q1), P(half, q3), P(-half, q3)] }, style: { fill: "none", stroke: "#999", lineWidth: 2.8 } },
            { type: "polygon", shape: { points: [P(-half, q1), P(half, q1), P(half, q3), P(-half, q3)] }, style: { fill, stroke, lineWidth: 1.3 } },
            seg(P(-half, med), P(half, med), 1.6),
          ],
        };
      },
    });
    const outliers = (g: number, out: number[][], offset: number, size: number) => series.push({
      type: "scatter", xAxisIndex: g, yAxisIndex: g, z: 4, symbolSize: size, itemStyle: { color: "#000" },
      data: out.flatMap((vals, i) => vals.map((v) => [i + 1 + offset, v])),
    });

    // ------------------------- A
    const gA = addGrid({
      l: 140, t: 53, r: 1348, b: 378, x: [0.4, 22.6], y: [-3.43, 72.5],
      xTicks: cellTypes.map((_, i) => i + 1), xFmt: (v: number) => cellTypes[v - 1], xRot: 29, xFs: 14.4, xBold: true, xMargin: 22, xPad: [0, 4, 0, 0], xTickLen: 7, lw: 1.7, xColor: "#111",
      yTicks: [0, 20, 40, 60], yFs: 14, yBold: true, yColor: "#111", name: "CIBERSORT (%)", nameGap: 37, nameFs: 14, nameBold: true, nameColor: "#111",
    });
    dodgedBoxes(gA, cellBoxDDR1, -0.2, 0.18, RED);
    dodgedBoxes(gA, cellBoxDDR2, 0.2, 0.18, GOLD);
    outliers(gA, cellOutDDR1, -0.2, 11);
    outliers(gA, cellOutDDR2, 0.2, 11);
    cellSig.forEach((s, i) => txt(172 + 54.46 * i, 60, s, { fs: 23, align: "center", color: "#222" }));
    txt(1185, 7, "DDR Cluster", { fs: 14, bold: true });
    [[29, RED, "DDR1"], [47, GOLD, "DDR2"]].forEach(([y, c, t]: any) => {
      hline(1193.5, y - 8, 1193.5, y + 8, "#333", 1.2);
      rect(1186, y - 5, 15, 10, c, { stroke: "#333", lw: 1.2 });
      hline(1186, y, 1201, y, "#222", 1.2, 51);
      txt(1210, y, t, { fs: 14 });
    });
    txt(11, 56, "A", { fs: 26, bold: true, color: "#000" });

    // ------------------------- B
    const gB = addGrid({
      l: 75, t: 541.7, r: 594.6, b: 919.3, x: [0.407, 9.6], y: [-0.3, 6.37],
      xTicks: checkpoints.map((_, i) => i + 1), xFmt: (v: number) => checkpoints[v - 1], xRot: 30, xFs: 12.5, xBold: true, xMargin: 13, lw: 1.5,
      yTicks: [0, 2, 4, 6], yFs: 13, yBold: true, name: "log2 (FPKM+1)", nameGap: 21, nameFs: 12.5, nameBold: true,
    });
    dodgedBoxes(gB, cpBoxDDR1, -0.2, 0.17, GOLD);
    dodgedBoxes(gB, cpBoxDDR2, 0.2, 0.17, RED);
    outliers(gB, cpOutDDR1, -0.2, 8);
    outliers(gB, cpOutDDR2, 0.2, 8);
    checkpointSig.forEach((s, i) => txt(108.5 + 56.5 * i, 554, s, { fs: 18, align: "center", color: "#222" }));
    txt(11, 501, "B", { fs: 26, bold: true, color: "#000" });
    txt(41, 524, "TCGA-LIHC", { fs: 17, bold: true });
    txt(481, 504, "TGF BETA signaling", { fs: 13, bold: true });
    [[521.5, GOLD, "DDR1 (277)"], [533.5, RED, "DDR2 (92)"]].forEach(([y, c, t]: any) => {
      rect(482.5, y - 4, 11.5, 8, c, { stroke: "#333", lw: 1 });
      hline(482.5, y, 494, y, "#222", 1, 51);
      txt(501, y, t, { fs: 10, bold: true, color: "#222" });
    });

    // ------------------------- C
    const rowGroups = (spec: number[][]) => spec.flatMap(([g, n]) => Array(n).fill(g));
    const heatIdx: number[] = [], groupIdx: number[] = [];
    const heatColumn = (genes: string[], fc: number[], stars: string[], groups: number[][], box: any) => {
      rect(box.bg[0], box.bg[1], box.bg[2] - box.bg[0], box.bg[3] - box.bg[1], "#BEBEBE", { z: 0 });
      const rows = rowGroups(groups);
      [[box.h, true], [box.c, false]].forEach(([xr, isHeat]: any) => {
        const g = grids.length;
        grids.push({ left: xr[0], width: xr[1] - xr[0], top: box.t, height: box.b - box.t, show: false });
        xAxes.push({ type: "category", gridIndex: g, data: [isHeat ? "LogFC" : "Group"], show: false });
        yAxes.push({
          type: "category", gridIndex: g, data: genes, inverse: true, axisLine: { show: false }, axisTick: { show: false }, splitLine: { show: false },
          axisLabel: { show: isHeat, interval: 0, fontFamily: FONT, fontSize: 9.8, color: "#333", margin: box.m },
        });
        const itemBase = { borderColor: "#BEBEBE", borderWidth: 1.5 };
        if (isHeat) {
          heatIdx.push(series.length);
          series.push({
            type: "heatmap", xAxisIndex: g, yAxisIndex: g, z: 3, itemStyle: itemBase,
            data: fc.map((v, i) => (genes[i] === "IDO1"
              ? { value: [0, i, v], label: { offset: [0, 10] } }
              : [0, i, v])),
            label: { show: true, formatter: (p: any) => stars[p.dataIndex], fontFamily: FONT, fontSize: 12.5, fontWeight: "bold", color: "#1a1a1a" },
            emphasis: { disabled: true },
          });
        } else {
          groupIdx.push(series.length);
          series.push({
            type: "heatmap", xAxisIndex: g, yAxisIndex: g, z: 3, itemStyle: itemBase, emphasis: { disabled: true },
            data: rows.map((c: number, i: number) => [0, i, c]),
          });
        }
      });
    };
    heatColumn(genes1, logfc1, stars1, groupRows1, { bg: [799, 520, 826, 1070], h: [800, 812], c: [813, 825], t: 521.5, b: 1068.5, m: 8.5 });
    heatColumn(genes2, logfc2, stars2, groupRows2, { bg: [893, 518, 924, 1027], h: [895, 907], c: [907.5, 923], t: 519.8, b: 1025.9, m: 10 });
    heatColumn(genes3, logfc3, stars3, groupRows3, { bg: [984, 518, 1016, 987], h: [985.7, 997.7], c: [998.5, 1015], t: 519.8, b: 985.9, m: 9 });
    txt(716, 508, "C", { fs: 27, bold: true, color: "#000" });
    rect(1061, 512, 27, 330, "#BEBEBE", { z: 40 });
    immuneGroups.forEach((name, i) => {
      const y = 525 + 25.4 * i;
      rect(1064, y - 10.5, 21, 21, immuneColors[i]);
      txt(1095.7, y, name, { fs: 12.8, color: "#222" });
    });
    txt(1069, 870, "* p < 0.05", { fs: 12.5, color: "#222" });
    txt(1065, 898.7, "** p < 0.01", { fs: 12.5, color: "#222" });
    txt(1065, 927, "LogFC", { fs: 13, color: "#222" });
    logfcTicks.forEach((t, i) => txt(1092, 941 + 26.2 * i, t, { fs: 11, color: "#222" }));

    // ------------------------- D
    const violinPanel = (o: any) => {
      const g = addGrid({
        l: o.box[0], t: o.box[1], r: o.box[2], b: o.box[3], x: o.x, y: o.y,
        xTicks: [1, 2], xFmt: (v: number) => (v === 1 ? "DDR1" : "DDR2"), xFs: 13, xMargin: 12, xPad: [0, 0, 0, 11], lw: 1.3,
        yTicks: o.yTicks, yFs: 13, name: o.name, nameGap: o.nameGap, nameFs: o.nameFs,
      });
      const draw = (x: number, vio: number[][], b: number[], vFill: string, bFill: string) => series.push({
        type: "custom", xAxisIndex: g, yAxisIndex: g, z: 3, data: [[x, b[3]]], encode: { x: 0, y: 1 },
        renderItem: (_: any, api: any) => {
          const P = (dx: number, v: number) => api.coord([x + dx, v]);
          const [lo, q1, nlo, med, nhi, q3, hi, waist] = b;
          const hw = 0.38;
          const pts = [...vio.map(([v, w]) => P(w, v)), ...vio.slice().reverse().map(([v, w]) => P(-w, v))];
          const stroke = "#222";
          const seg = (a: number[], c: number[]) => ({ type: "line", shape: { x1: a[0], y1: a[1], x2: c[0], y2: c[1] }, style: { stroke, lineWidth: 1.2 } });
          return {
            type: "group",
            children: [
              { type: "polygon", shape: { points: pts, smooth: 0.25 }, style: { fill: vFill, stroke, lineWidth: 1.2 } },
              seg(P(0, lo), P(0, hi)),
              { type: "polygon", shape: { points: [P(-hw, q1), P(hw, q1), P(hw, nlo), P(waist, med), P(hw, nhi), P(hw, q3), P(-hw, q3), P(-hw, nhi), P(-waist, med), P(-hw, nlo)] }, style: { fill: bFill, stroke, lineWidth: 1.3 } },
              seg(P(-waist, med), P(waist, med)),
            ],
          };
        },
      });
      draw(1, o.v1, o.b1, "#E9A8A8", "rgba(192,50,52,.85)");
      draw(2, o.v2, o.b2, "#F0E199", "rgba(214,172,14,.88)");
      const dots = (x: number, pts: number[][], c: string) => series.push({
        type: "scatter", xAxisIndex: g, yAxisIndex: g, z: 4, symbolSize: 4.6,
        itemStyle: { color: c, borderColor: "#111", borderWidth: 1 },
        data: pts.map(([dx, v]) => [x + dx, v]),
      });
      dots(1, o.p1, "#6B1015");
      dots(2, o.p2, "#7D6A10");
      txt(o.sig[0], o.sig[1] + 5, o.sig[2], { fs: 16, align: "center", color: "#111", bold: true });
    };
    violinPanel({ box: [106, 1130, 248.6, 1395], x: [.393, 2.534], y: [-1882, 1350], yTicks: [-1000, 0, 1000], name: "Stromal score", nameGap: 52, nameFs: 13.5, v1: stromalViolin1, v2: stromalViolin2, b1: stromalBox1, b2: stromalBox2, p1: stromalPts1, p2: stromalPts2, sig: [147, 1082.7, "**"] });
    violinPanel({ box: [313.8, 1110, 474, 1392.7], x: [.4, 2.45], y: [-7.8, 171], yTicks: [0, 50, 100, 150], name: "TCR Richness", nameGap: 41, nameFs: 14, v1: tcrViolin1, v2: tcrViolin2, b1: tcrBox1, b2: tcrBox2, p1: tcrPts1, p2: tcrPts2, sig: [373, 1059, "*"] });
    violinPanel({ box: [552, 1121.7, 702, 1394], x: [.407, 2.587], y: [-2585, 1605], yTicks: [-2000, -1000, 0, 1000], name: "Th2 Cells", nameGap: 55, nameFs: 14, v1: th2Violin1, v2: th2Violin2, b1: th2Box1, b2: th2Box2, p1: th2Pts1, p2: th2Pts2, sig: [594, 1072.7, "****"] });
    violinPanel({ box: [755.3, 1155, 908.6, 1395], x: [.404, 2.594], y: [-3.1, 66], yTicks: [0, 20, 40, 60], name: "Homologous Recombination Defects", nameGap: 27, nameFs: 12.2, v1: hrdViolin1, v2: hrdViolin2, b1: hrdBox1, b2: hrdBox2, p1: hrdPts1, p2: hrdPts2, sig: [813, 1112, "****"] });
    violinPanel({ box: [965.6, 1150, 1117.6, 1399], x: [.395, 2.595], y: [-11.3, 270.5], yTicks: [0, 100, 200], name: "BCR Richness", nameGap: 35, nameFs: 12.5, v1: bcrViolin1, v2: bcrViolin2, b1: bcrBox1, b2: bcrBox2, p1: bcrPts1, p2: bcrPts2, sig: [1018.7, 1105, "*"] });
    violinPanel({ box: [1181.5, 1141.7, 1351, 1397.7], x: [.405, 2.587], y: [-.25, 5.21], yTicks: [0, 1, 2, 3, 4, 5], name: "BCR Shannon", nameGap: 23, nameFs: 12.8, v1: shanViolin1, v2: shanViolin2, b1: shanBox1, b2: shanBox2, p1: shanPts1, p2: shanPts2, sig: [1248.4, 1096, "*"] });
    txt(11, 1077, "D", { fs: 26, bold: true, color: "#000" });

    // ------------------------- E
    const gseaGrid = (o: any) => addGrid({
      frame: true, l: o.box[0], t: o.box[1], r: o.box[2], b: o.box[3], x: [0, o.xMax], y: o.y,
      xTicks: [10000, 20000, 30000], xGrid: [5000, 10000, 15000, 20000, 25000, 30000], xFs: 13, xBold: true, xColor: "#4D4D4D", xMargin: 5,
      yTicks: o.yTicks, yGrid: o.yGrid, yFmt: o.yFmt, yFs: 14, yBold: true, yColor: "#4D4D4D", yMargin: 5,
      name: "Enrichment Score", nameGap: o.nameGap, nameFs: 12.2,
    });
    const curve = (g: number, data: number[][], color: string, area?: string, lw = 1.6, zeroLine = false) => series.push({
      type: "line", xAxisIndex: g, yAxisIndex: g, z: 3, showSymbol: false, symbol: "none", data, lineStyle: { color, width: lw }, itemStyle: { color },
      ...(area ? { areaStyle: { color: area } } : {}),
      ...(zeroLine ? { markLine: { silent: true, symbol: "none", label: { show: false }, lineStyle: { color: "#000", width: 1.5, type: "solid" }, data: [{ yAxis: 0 }], z: 5 } } : {}),
    });
    const ribbon = (g: number, upper: number[][], lower: number[][], fill: string) => series.push({
      type: "custom", xAxisIndex: g, yAxisIndex: g, z: 2, data: [upper[0]], encode: { x: 0, y: 1 },
      renderItem: (_: any, api: any) => ({
        type: "polygon",
        shape: { points: [...upper.map((p) => api.coord(p)), ...lower.slice().reverse().map((p) => api.coord(p))] },
        style: { fill },
      }),
    });
    const rug = (g: number, segs: number[][], yLo: number, yHi: number, color: string, minPx = 1.2) => series.push({
      type: "custom", xAxisIndex: g, yAxisIndex: g, z: 3,
      data: segs.map((s) => [s[0], s[1] ?? s[0]]), encode: { x: [0, 1] },
      renderItem: (_: any, api: any) => {
        const a = api.coord([api.value(0), yHi]);
        const b = api.coord([api.value(1), yLo]);
        return { type: "rect", shape: { x: a[0], y: a[1], width: Math.max(b[0] - a[0], minPx), height: b[1] - a[1] }, style: { fill: color } };
      },
    });
    const title = (x: number, y1: number) => {
      txt(x, y1, "TCGA\u2212LIHC", { fs: 14, color: "#222" });
      txt(x, y1 + 15.3, "DDR2 versus DDR1", { fs: 14, color: "#222" });
    };
    txt(12, 1487, "E", { fs: 25, bold: true, color: "#000" });

    // E1
    const e1 = gseaGrid({ box: [39, 1552.3, 446.7, 1816.7], xMax: 34940, y: [-.088, .827], yTicks: [0, .2, .4, .6, .8], yGrid: [0, .1, .2, .3, .4, .5, .6, .7, .8], yFmt: (v: number) => v.toFixed(1), nameGap: 26.5 });
    curve(e1, nerCurve, "#006400", "rgba(0,100,0,.07)", 1.6, true);
    curve(e1, dnaCurve, "#8B4513", "rgba(139,69,19,.09)");
    title(39, 1522.7);
    txt(243, 1842, "Rank in Ordered Dataset", { fs: 12.4, align: "center", color: "#222" });
    rect(361, 1563, 74.7, 12, "#AEB9C8");
    rect(361, 1576, 74.7, 13.5, "#E3E3DF");
    rect(361, 1589.5, 74.7, 12.5, "#D5DCE4");
    txt(378, 1568.5, "ES", { fs: 10.5, align: "center", color: "#222" });
    txt(420.7, 1569, "pvalue", { fs: 10.5, align: "center", color: "#222" });
    txt(356, 1583.7, "Nucleotide Excision Repair", { fs: 9.6, align: "right", color: "#2E7D2E" });
    txt(353, 1596.7, "DNA Repair", { fs: 9.6, align: "right", color: "#A0602E" });
    txt(378.5, 1582.7, "0.7851", { fs: 11.5, align: "center", color: "#222" });
    txt(416.5, 1582.7, "0.0355", { fs: 11.5, align: "center", color: "#222" });
    txt(378.5, 1596, "0.7071", { fs: 11.5, align: "center", color: "#222" });
    txt(416.5, 1596, "0.0495", { fs: 11.5, align: "center", color: "#222" });
    const rug1 = hiddenGrid(39, 1851.7, 446.7, 1890, [0, 34940], [0, 2]);
    rug(rug1, nerRug, 1, 2, "#006400");
    rug(rug1, dnaRug, 0, 1, "#8B4513");
    hline(39, 1890, 446.7, 1890, "#3C8A3C", 1.2);

    // E2
    const e2 = gseaGrid({ box: [546.7, 1540, 948.3, 1806.7], xMax: 34710, y: [-1.086, 1.037], yTicks: [-1, -.5, 0, .5, 1], yGrid: [-1, -.75, -.5, -.25, 0, .25, .5, .75, 1], yFmt: (v: number) => v.toFixed(1).replace("-", "\u2212"), nameGap: 35 });
    const posCurves: any[] = [[posCurveDendritic, 3], [posCurveInnate, 1], [posCurveAntigen, 2], [posCurveBact, 9], [posCurveIL6, 10], [posCurveTact, 11], [posCurveBpos, 12], [posCurveInflam, 13], [posCurveTCR, 14]];
    ribbon(e2, negCurveImmune, negCurveProd, "rgba(215,180,170,.4)");
    posCurves.forEach(([d, c], i) => {
      const colour = c === 14 ? "#B8924A" : gseaColors[c];
      curve(e2, d, colour, "rgba(125,85,55,.14)", 1.7, i === 0);
    });
    const negCurves: any[] = [[negCurveCyto, 0], [negCurveImmune, 4], [negCurveEffector, 5], [negCurveMediator, 6], [negCurveIL1, 8], [negCurveProd, 7]];
    negCurves.forEach(([d, c]) => curve(e2, d, gseaColors[c], undefined, 1.6));
    title(546.7, 1510.7);
    txt(749, 1832.3, "Rank in Ordered Dataset", { fs: 12.5, align: "center", color: "#222" });
    const termY = [218, 260, 298, 334, 373, 410, 441, 479, 514, 547, 579, 614, 645, 678, 712];
    const valY = [225, 265, 297, 333, 372, 408, 445, 477, 511, 545, 578, 606, 638, 677, 711];
    const rowEdges = [205, 245, 278, 315, 350, 388, 418, 458, 490, 528, 562, 596, 625, 660, 695, 723];
    const rowFill = ["#E3E3DD", "#D9E0E8", "#E3E3DD", "#E2EAF2", "#E2EAF2", "#BDBDB0", "#EFE8E0", "#C5D3E4", "#E3E3DD", "#E3E3DD", "#E3E3DD", "#E3E3DD", "#E3E3DD", "#E3E3DD", "#E3E3DD"];
    rect(878.7, 1547, 69.6, 11.5, "#AEB9C8");
    txt(900, 1552.7, "ES", { fs: 9.8, align: "center", color: "#222" });
    txt(932, 1552.7, "pvalue", { fs: 9.8, align: "center", color: "#222" });
    gseaTerms.forEach((t, i) => {
      rect(878.7, 1490 + rowEdges[i] / 3, 69.6, (rowEdges[i + 1] - rowEdges[i]) / 3, rowFill[i]);
      txt(874.3, 1490 + termY[i] / 3, t, { fs: 8.5, align: "right", color: gseaColors[i] });
      txt(897.3, 1490 + valY[i] / 3, gseaEs[i], { fs: 8.8, align: "center", color: "#222" });
      txt(930, 1490 + valY[i] / 3, gseaP[i], { fs: 8.8, align: "center", color: "#222" });
    });
    const rug2 = hiddenGrid(546.7, 1841, 948.3, 1881, [0, 34710], [0, 8]);
    rugRowsE2.forEach((r) => rug(rug2, r.segs as number[][], r.y, r.y + r.h, r.color, 1));
    hline(546.7, 1880.3, 950, 1880.3, "#CD5C5C", 2.4);

    // E3
    const e3 = gseaGrid({ box: [1003.3, 1551.7, 1372.7, 1799.3], xMax: 35014, y: [-.961, .062], yTicks: [-.75, -.5, -.25, 0], yGrid: [-.875, -.75, -.625, -.5, -.375, -.25, -.125, 0], yFmt: (v: number) => v.toFixed(2).replace("-", "\u2212"), nameGap: 32 });
    ribbon(e3, fattyCurve, fattyRibbon, "#E3E6D8");
    curve(e3, lipidCurve, "#8B4513", undefined, 1.6, true);
    curve(e3, fattyCurve, "#006400", undefined, 1.6);
    title(1003.3, 1523.3);
    txt(1187.7, 1823.3, "Rank in Ordered Dataset", { fs: 11.8, align: "center", color: "#222" });
    rect(1287.7, 1586, 79.6, 11.3, "#AEB9C8");
    rect(1287.7, 1597.3, 79.6, 14.3, "#E3E3DD");
    rect(1287.7, 1611.6, 79.6, 12.7, "#D5DDE6");
    txt(1306.7, 1591, "pvalue", { fs: 11, align: "center", color: "#222" });
    txt(1342.3, 1592.7, "ES", { fs: 11, align: "center", color: "#222" });
    txt(1285, 1602.3, "fatty acid metabolic process", { fs: 9.4, align: "right", color: "#2E7D2E" });
    txt(1285.7, 1619, "lipid biosynthetic process", { fs: 9.4, align: "right", color: "#A0602E" });
    txt(1304.3, 1607, "0.0082", { fs: 11, align: "center", color: "#222" });
    txt(1343.3, 1607, "-0.9160", { fs: 11, align: "center", color: "#222" });
    txt(1304.3, 1620.3, "0.0035", { fs: 11, align: "center", color: "#222" });
    txt(1343.3, 1620.3, "-0.9037", { fs: 11, align: "center", color: "#222" });
    const rug3 = hiddenGrid(1003.3, 1832.7, 1373, 1869, [0, 35014], [0, 2]);
    rug(rug3, lipidRug, 1, 2, "#8B4513");
    rug(rug3, fattyRug, 0, 1, "#006400");
    hline(1003.3, 1869, 1373, 1869, "#A0602E", 1.2);

    chart.setOption({
      animation: false,
      backgroundColor: "#fff",
      grid: grids, xAxis: xAxes, yAxis: yAxes, series, graphic: gfx,
      visualMap: [
        {
          type: "continuous", min: -2, max: 2, seriesIndex: heatIdx, dimension: 2, show: true, calculable: false, text: null,
          left: 1065, top: 940, itemWidth: 21, itemHeight: 106, padding: 0, realtime: false,
          inRange: { color: ["#2E8B57", "#96C5AB", "#FFFFFF", "#F2A77F", "#D2691E"] },
        },
        {
          type: "piecewise", show: false, seriesIndex: groupIdx, dimension: 2,
          pieces: immuneColors.map((color, i) => ({ value: i, color })),
        },
      ],
    });
    return () => chart.dispose();
  }, []);
  return <div ref={ref} style={{ position: "absolute", left: 0, top: 0, width: 1377, height: 1894 }} />;
}

export default App;
